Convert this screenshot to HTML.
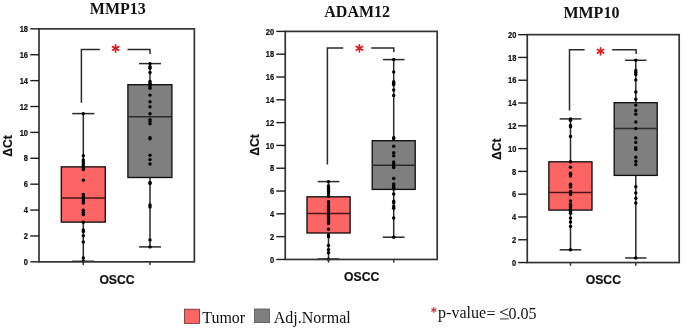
<!DOCTYPE html>
<html><head><meta charset="utf-8"><style>
html,body{margin:0;padding:0;background:#fff;}
body{width:685px;height:331px;overflow:hidden;}
svg{display:block;will-change:transform;}
.ttl{font-family:"Liberation Serif",serif;font-weight:bold;font-size:16px;fill:#111;}
.tk{font-family:"Liberation Sans",sans-serif;font-weight:bold;font-size:7.5px;fill:#111;stroke:#111;stroke-width:0.2px;}
.yl{font-family:"Liberation Sans",sans-serif;font-weight:bold;font-size:12.2px;fill:#111;stroke:#111;stroke-width:0.2px;}
.xl{font-family:"Liberation Sans",sans-serif;font-weight:bold;font-size:12.2px;fill:#111;stroke:#111;stroke-width:0.2px;}
.lg{font-family:"Liberation Serif",serif;font-size:16px;fill:#111;}
.pv{font-family:"Liberation Serif",serif;font-size:16px;fill:#111;}
</style></head><body>
<svg width="685" height="331" viewBox="0 0 685 331">
<rect width="685" height="331" fill="#fff"/>
<text x="117.85" y="13.8" class="ttl" text-anchor="middle">MMP13</text>
<line x1="83.3" y1="113.6" x2="83.3" y2="261.3" stroke="#2b2b2b" stroke-width="1.5"/>
<line x1="72.2" y1="113.6" x2="94.4" y2="113.6" stroke="#2b2b2b" stroke-width="1.5"/>
<line x1="72.2" y1="261.3" x2="94.4" y2="261.3" stroke="#2b2b2b" stroke-width="1.5"/>
<rect x="61.3" y="166.85" width="44" height="55.25" fill="#FD6464" stroke="#111" stroke-width="1.35"/>
<line x1="61.3" y1="197.9" x2="105.3" y2="197.9" stroke="#4a1414" stroke-width="1.5"/>
<g fill="#000"><circle cx="83.3" cy="113.6" r="1.72"/><circle cx="83.3" cy="155.7" r="1.72"/><circle cx="83.3" cy="160" r="1.72"/><circle cx="83.3" cy="162" r="1.72"/><circle cx="83.3" cy="164" r="1.72"/><circle cx="83.3" cy="166" r="1.72"/><circle cx="83.3" cy="168" r="1.72"/><circle cx="83.3" cy="169.6" r="1.72"/><circle cx="83.3" cy="180.2" r="1.72"/><circle cx="83.3" cy="194.5" r="1.72"/><circle cx="83.3" cy="197" r="1.72"/><circle cx="83.3" cy="199" r="1.72"/><circle cx="83.3" cy="201" r="1.72"/><circle cx="83.3" cy="203" r="1.72"/><circle cx="83.3" cy="210.3" r="1.72"/><circle cx="83.3" cy="212.4" r="1.72"/><circle cx="83.3" cy="214.5" r="1.72"/><circle cx="83.3" cy="222.3" r="1.72"/><circle cx="83.3" cy="230" r="1.72"/><circle cx="83.3" cy="231.5" r="1.72"/><circle cx="83.3" cy="235.8" r="1.72"/><circle cx="83.3" cy="241.9" r="1.72"/><circle cx="83.3" cy="258" r="1.72"/><circle cx="83.3" cy="261.3" r="1.72"/></g>
<line x1="150" y1="63.6" x2="150" y2="246.9" stroke="#2b2b2b" stroke-width="1.5"/>
<line x1="139" y1="63.6" x2="161" y2="63.6" stroke="#2b2b2b" stroke-width="1.5"/>
<line x1="139" y1="246.9" x2="161" y2="246.9" stroke="#2b2b2b" stroke-width="1.5"/>
<rect x="127.9" y="84.7" width="44" height="92.8" fill="#7F7F7F" stroke="#111" stroke-width="1.35"/>
<line x1="127.9" y1="116.7" x2="171.9" y2="116.7" stroke="#2a2a2a" stroke-width="1.5"/>
<g fill="#000"><circle cx="150" cy="63.6" r="1.72"/><circle cx="150" cy="66.6" r="1.72"/><circle cx="150" cy="68.2" r="1.72"/><circle cx="150" cy="72.5" r="1.72"/><circle cx="150" cy="81.5" r="1.72"/><circle cx="150" cy="83.3" r="1.72"/><circle cx="150" cy="85.1" r="1.72"/><circle cx="150" cy="86.9" r="1.72"/><circle cx="150" cy="88.3" r="1.72"/><circle cx="150" cy="95.1" r="1.72"/><circle cx="150" cy="101.8" r="1.72"/><circle cx="150" cy="106.7" r="1.72"/><circle cx="150" cy="113.8" r="1.72"/><circle cx="150" cy="119.6" r="1.72"/><circle cx="150" cy="121.6" r="1.72"/><circle cx="150" cy="123.7" r="1.72"/><circle cx="150" cy="137.7" r="1.72"/><circle cx="150" cy="138.7" r="1.72"/><circle cx="150" cy="155.3" r="1.72"/><circle cx="150" cy="159.6" r="1.72"/><circle cx="150" cy="164" r="1.72"/><circle cx="150" cy="182.4" r="1.72"/><circle cx="150" cy="183.6" r="1.72"/><circle cx="150" cy="205" r="1.72"/><circle cx="150" cy="207" r="1.72"/><circle cx="150" cy="239.9" r="1.72"/><circle cx="150" cy="246.9" r="1.72"/></g>
<rect x="39" y="28.85" width="155.35" height="233" fill="none" stroke="#333333" stroke-width="1.7"/>
<line x1="30.3" y1="261.85" x2="39" y2="261.85" stroke="#1e1e1e" stroke-width="1.4"/>
<text class="tk" text-anchor="end" transform="translate(28 265.05) scale(1 1.1)">0</text>
<line x1="30.3" y1="235.96" x2="39" y2="235.96" stroke="#1e1e1e" stroke-width="1.4"/>
<text class="tk" text-anchor="end" transform="translate(28 239.16) scale(1 1.1)">2</text>
<line x1="30.3" y1="210.07" x2="39" y2="210.07" stroke="#1e1e1e" stroke-width="1.4"/>
<text class="tk" text-anchor="end" transform="translate(28 213.27) scale(1 1.1)">4</text>
<line x1="30.3" y1="184.18" x2="39" y2="184.18" stroke="#1e1e1e" stroke-width="1.4"/>
<text class="tk" text-anchor="end" transform="translate(28 187.38) scale(1 1.1)">6</text>
<line x1="30.3" y1="158.29" x2="39" y2="158.29" stroke="#1e1e1e" stroke-width="1.4"/>
<text class="tk" text-anchor="end" transform="translate(28 161.49) scale(1 1.1)">8</text>
<line x1="30.3" y1="132.41" x2="39" y2="132.41" stroke="#1e1e1e" stroke-width="1.4"/>
<text class="tk" text-anchor="end" transform="translate(28 135.61) scale(1 1.1)">10</text>
<line x1="30.3" y1="106.52" x2="39" y2="106.52" stroke="#1e1e1e" stroke-width="1.4"/>
<text class="tk" text-anchor="end" transform="translate(28 109.72) scale(1 1.1)">12</text>
<line x1="30.3" y1="80.63" x2="39" y2="80.63" stroke="#1e1e1e" stroke-width="1.4"/>
<text class="tk" text-anchor="end" transform="translate(28 83.83) scale(1 1.1)">14</text>
<line x1="30.3" y1="54.74" x2="39" y2="54.74" stroke="#1e1e1e" stroke-width="1.4"/>
<text class="tk" text-anchor="end" transform="translate(28 57.94) scale(1 1.1)">16</text>
<line x1="30.3" y1="28.85" x2="39" y2="28.85" stroke="#1e1e1e" stroke-width="1.4"/>
<text class="tk" text-anchor="end" transform="translate(28 32.05) scale(1 1.1)">18</text>
<line x1="83.3" y1="261.85" x2="83.3" y2="265.05" stroke="#333333" stroke-width="1.5"/>
<line x1="150" y1="261.85" x2="150" y2="265.05" stroke="#333333" stroke-width="1.5"/>
<polyline points="81.4,102.7 81.4,49.6 99.8,49.6" fill="none" stroke="#2b2b2b" stroke-width="1.5"/>
<polyline points="127.5,49.6 150,49.6 150,54" fill="none" stroke="#2b2b2b" stroke-width="1.5"/>
<g stroke="#D81E1E" stroke-width="1.75" stroke-linecap="round"><line x1="115.6" y1="44.85" x2="115.6" y2="51.95"/><line x1="112.53" y1="46.62" x2="118.67" y2="50.17"/><line x1="118.67" y1="46.62" x2="112.53" y2="50.17"/></g>
<text x="0" y="0" class="yl" text-anchor="middle" transform="translate(7.9 146) rotate(-90)" dy="4.3">&#916;Ct</text>
<text x="117" y="284" class="xl" text-anchor="middle">OSCC</text>
<text x="357.15" y="16.8" class="ttl" text-anchor="middle">ADAM12</text>
<line x1="328.5" y1="181.6" x2="328.5" y2="259" stroke="#2b2b2b" stroke-width="1.5"/>
<line x1="317.7" y1="181.6" x2="339.3" y2="181.6" stroke="#2b2b2b" stroke-width="1.5"/>
<line x1="317.7" y1="259" x2="339.3" y2="259" stroke="#2b2b2b" stroke-width="1.5"/>
<rect x="307" y="196.8" width="43.1" height="36.2" fill="#FD6464" stroke="#111" stroke-width="1.35"/>
<line x1="307" y1="213.5" x2="350.1" y2="213.5" stroke="#4a1414" stroke-width="1.5"/>
<g fill="#000"><circle cx="328.5" cy="181.6" r="1.72"/><circle cx="328.5" cy="185.9" r="1.72"/><circle cx="328.5" cy="187.7" r="1.72"/><circle cx="328.5" cy="189.5" r="1.72"/><circle cx="328.5" cy="191.8" r="1.72"/><circle cx="328.5" cy="193.6" r="1.72"/><circle cx="328.5" cy="196.3" r="1.72"/><circle cx="328.5" cy="201.7" r="1.72"/><circle cx="328.5" cy="203.8" r="1.72"/><circle cx="328.5" cy="205.9" r="1.72"/><circle cx="328.5" cy="207.7" r="1.72"/><circle cx="328.5" cy="209.5" r="1.72"/><circle cx="328.5" cy="211.8" r="1.72"/><circle cx="328.5" cy="213.6" r="1.72"/><circle cx="328.5" cy="215.4" r="1.72"/><circle cx="328.5" cy="217.2" r="1.72"/><circle cx="328.5" cy="219.5" r="1.72"/><circle cx="328.5" cy="221.7" r="1.72"/><circle cx="328.5" cy="223.6" r="1.72"/><circle cx="328.5" cy="229.2" r="1.72"/><circle cx="328.5" cy="235" r="1.72"/><circle cx="328.5" cy="236.8" r="1.72"/><circle cx="328.5" cy="245.5" r="1.72"/><circle cx="328.5" cy="249.6" r="1.72"/><circle cx="328.5" cy="252.7" r="1.72"/><circle cx="328.5" cy="259.2" r="1.72"/></g>
<line x1="393.7" y1="59.6" x2="393.7" y2="237.2" stroke="#2b2b2b" stroke-width="1.5"/>
<line x1="382.85" y1="59.6" x2="404.55" y2="59.6" stroke="#2b2b2b" stroke-width="1.5"/>
<line x1="382.85" y1="237.2" x2="404.55" y2="237.2" stroke="#2b2b2b" stroke-width="1.5"/>
<rect x="372.2" y="140.7" width="43" height="48.7" fill="#7F7F7F" stroke="#111" stroke-width="1.35"/>
<line x1="372.2" y1="165.2" x2="415.2" y2="165.2" stroke="#2a2a2a" stroke-width="1.5"/>
<g fill="#000"><circle cx="393.7" cy="59.5" r="1.72"/><circle cx="393.7" cy="71.9" r="1.72"/><circle cx="393.7" cy="81.7" r="1.72"/><circle cx="393.7" cy="83.2" r="1.72"/><circle cx="393.7" cy="84.7" r="1.72"/><circle cx="393.7" cy="90" r="1.72"/><circle cx="393.7" cy="95.5" r="1.72"/><circle cx="393.7" cy="137.7" r="1.72"/><circle cx="393.7" cy="138.8" r="1.72"/><circle cx="393.7" cy="146.2" r="1.72"/><circle cx="393.7" cy="152.8" r="1.72"/><circle cx="393.7" cy="155.8" r="1.72"/><circle cx="393.7" cy="162" r="1.72"/><circle cx="393.7" cy="164" r="1.72"/><circle cx="393.7" cy="166" r="1.72"/><circle cx="393.7" cy="167.6" r="1.72"/><circle cx="393.7" cy="178.5" r="1.72"/><circle cx="393.7" cy="184" r="1.72"/><circle cx="393.7" cy="186" r="1.72"/><circle cx="393.7" cy="187.5" r="1.72"/><circle cx="393.7" cy="189" r="1.72"/><circle cx="393.7" cy="194" r="1.72"/><circle cx="393.7" cy="201.3" r="1.72"/><circle cx="393.7" cy="203.1" r="1.72"/><circle cx="393.7" cy="206.4" r="1.72"/><circle cx="393.7" cy="208.2" r="1.72"/><circle cx="393.7" cy="218" r="1.72"/><circle cx="393.7" cy="237.2" r="1.72"/></g>
<rect x="285.25" y="31.4" width="151.95" height="228.05" fill="none" stroke="#333333" stroke-width="1.7"/>
<line x1="276.3" y1="259.45" x2="285.25" y2="259.45" stroke="#1e1e1e" stroke-width="1.4"/>
<text class="tk" text-anchor="end" transform="translate(274.2 262.65) scale(1 1.1)">0</text>
<line x1="276.3" y1="236.64" x2="285.25" y2="236.64" stroke="#1e1e1e" stroke-width="1.4"/>
<text class="tk" text-anchor="end" transform="translate(274.2 239.84) scale(1 1.1)">2</text>
<line x1="276.3" y1="213.84" x2="285.25" y2="213.84" stroke="#1e1e1e" stroke-width="1.4"/>
<text class="tk" text-anchor="end" transform="translate(274.2 217.04) scale(1 1.1)">4</text>
<line x1="276.3" y1="191.03" x2="285.25" y2="191.03" stroke="#1e1e1e" stroke-width="1.4"/>
<text class="tk" text-anchor="end" transform="translate(274.2 194.23) scale(1 1.1)">6</text>
<line x1="276.3" y1="168.23" x2="285.25" y2="168.23" stroke="#1e1e1e" stroke-width="1.4"/>
<text class="tk" text-anchor="end" transform="translate(274.2 171.43) scale(1 1.1)">8</text>
<line x1="276.3" y1="145.42" x2="285.25" y2="145.42" stroke="#1e1e1e" stroke-width="1.4"/>
<text class="tk" text-anchor="end" transform="translate(274.2 148.62) scale(1 1.1)">10</text>
<line x1="276.3" y1="122.62" x2="285.25" y2="122.62" stroke="#1e1e1e" stroke-width="1.4"/>
<text class="tk" text-anchor="end" transform="translate(274.2 125.82) scale(1 1.1)">12</text>
<line x1="276.3" y1="99.81" x2="285.25" y2="99.81" stroke="#1e1e1e" stroke-width="1.4"/>
<text class="tk" text-anchor="end" transform="translate(274.2 103.02) scale(1 1.1)">14</text>
<line x1="276.3" y1="77.01" x2="285.25" y2="77.01" stroke="#1e1e1e" stroke-width="1.4"/>
<text class="tk" text-anchor="end" transform="translate(274.2 80.21) scale(1 1.1)">16</text>
<line x1="276.3" y1="54.2" x2="285.25" y2="54.2" stroke="#1e1e1e" stroke-width="1.4"/>
<text class="tk" text-anchor="end" transform="translate(274.2 57.4) scale(1 1.1)">18</text>
<line x1="276.3" y1="31.4" x2="285.25" y2="31.4" stroke="#1e1e1e" stroke-width="1.4"/>
<text class="tk" text-anchor="end" transform="translate(274.2 34.6) scale(1 1.1)">20</text>
<line x1="328.5" y1="259.45" x2="328.5" y2="262.65" stroke="#333333" stroke-width="1.5"/>
<line x1="393.7" y1="259.45" x2="393.7" y2="262.65" stroke="#333333" stroke-width="1.5"/>
<polyline points="327.4,164.5 327.4,48.1 343.2,48.1" fill="none" stroke="#2b2b2b" stroke-width="1.5"/>
<polyline points="371.2,48.1 393.8,48.1 393.8,52.1" fill="none" stroke="#2b2b2b" stroke-width="1.5"/>
<g stroke="#D81E1E" stroke-width="1.75" stroke-linecap="round"><line x1="359.4" y1="44.75" x2="359.4" y2="51.85"/><line x1="356.33" y1="46.52" x2="362.47" y2="50.07"/><line x1="362.47" y1="46.52" x2="356.33" y2="50.07"/></g>
<text x="0" y="0" class="yl" text-anchor="middle" transform="translate(254.8 145) rotate(-90)" dy="4.3">&#916;Ct</text>
<text x="361.7" y="280.8" class="xl" text-anchor="middle">OSCC</text>
<text x="591.4" y="18.2" class="ttl" text-anchor="middle">MMP10</text>
<line x1="570.5" y1="118.9" x2="570.5" y2="249.8" stroke="#2b2b2b" stroke-width="1.5"/>
<line x1="559.7" y1="118.9" x2="581.3" y2="118.9" stroke="#2b2b2b" stroke-width="1.5"/>
<line x1="559.7" y1="249.8" x2="581.3" y2="249.8" stroke="#2b2b2b" stroke-width="1.5"/>
<rect x="548.85" y="161.8" width="43.15" height="48.3" fill="#FD6464" stroke="#111" stroke-width="1.35"/>
<line x1="548.85" y1="192.5" x2="592" y2="192.5" stroke="#4a1414" stroke-width="1.5"/>
<g fill="#000"><circle cx="570.5" cy="118.9" r="1.72"/><circle cx="570.5" cy="120.3" r="1.72"/><circle cx="570.5" cy="125.5" r="1.72"/><circle cx="570.5" cy="126.8" r="1.72"/><circle cx="570.5" cy="136.5" r="1.72"/><circle cx="570.5" cy="161.7" r="1.72"/><circle cx="570.5" cy="167.2" r="1.72"/><circle cx="570.5" cy="173.3" r="1.72"/><circle cx="570.5" cy="174.6" r="1.72"/><circle cx="570.5" cy="176" r="1.72"/><circle cx="570.5" cy="184.3" r="1.72"/><circle cx="570.5" cy="185.7" r="1.72"/><circle cx="570.5" cy="187.1" r="1.72"/><circle cx="570.5" cy="191.5" r="1.72"/><circle cx="570.5" cy="193" r="1.72"/><circle cx="570.5" cy="194.5" r="1.72"/><circle cx="570.5" cy="201" r="1.72"/><circle cx="570.5" cy="204.2" r="1.72"/><circle cx="570.5" cy="206" r="1.72"/><circle cx="570.5" cy="207.8" r="1.72"/><circle cx="570.5" cy="209.6" r="1.72"/><circle cx="570.5" cy="211.4" r="1.72"/><circle cx="570.5" cy="213.2" r="1.72"/><circle cx="570.5" cy="218.1" r="1.72"/><circle cx="570.5" cy="222" r="1.72"/><circle cx="570.5" cy="226.4" r="1.72"/><circle cx="570.5" cy="249.8" r="1.72"/></g>
<line x1="635.8" y1="60.3" x2="635.8" y2="258" stroke="#2b2b2b" stroke-width="1.5"/>
<line x1="625.1" y1="60.3" x2="646.5" y2="60.3" stroke="#2b2b2b" stroke-width="1.5"/>
<line x1="625.1" y1="258" x2="646.5" y2="258" stroke="#2b2b2b" stroke-width="1.5"/>
<rect x="614.2" y="102.7" width="43" height="72.7" fill="#7F7F7F" stroke="#111" stroke-width="1.35"/>
<line x1="614.2" y1="128.5" x2="657.2" y2="128.5" stroke="#2a2a2a" stroke-width="1.5"/>
<g fill="#000"><circle cx="635.8" cy="60.3" r="1.72"/><circle cx="635.8" cy="70.5" r="1.72"/><circle cx="635.8" cy="72.5" r="1.72"/><circle cx="635.8" cy="74.5" r="1.72"/><circle cx="635.8" cy="79.9" r="1.72"/><circle cx="635.8" cy="92" r="1.72"/><circle cx="635.8" cy="99.3" r="1.72"/><circle cx="635.8" cy="105.1" r="1.72"/><circle cx="635.8" cy="110.5" r="1.72"/><circle cx="635.8" cy="114.3" r="1.72"/><circle cx="635.8" cy="122" r="1.72"/><circle cx="635.8" cy="128.6" r="1.72"/><circle cx="635.8" cy="138" r="1.72"/><circle cx="635.8" cy="142.4" r="1.72"/><circle cx="635.8" cy="147.6" r="1.72"/><circle cx="635.8" cy="149.4" r="1.72"/><circle cx="635.8" cy="157.3" r="1.72"/><circle cx="635.8" cy="161.2" r="1.72"/><circle cx="635.8" cy="164.6" r="1.72"/><circle cx="635.8" cy="186.8" r="1.72"/><circle cx="635.8" cy="192.9" r="1.72"/><circle cx="635.8" cy="198.2" r="1.72"/><circle cx="635.8" cy="203" r="1.72"/><circle cx="635.8" cy="258" r="1.72"/></g>
<rect x="527.25" y="34.65" width="151.95" height="227.9" fill="none" stroke="#333333" stroke-width="1.7"/>
<line x1="518.2" y1="262.55" x2="527.25" y2="262.55" stroke="#1e1e1e" stroke-width="1.4"/>
<text class="tk" text-anchor="end" transform="translate(516.3 265.75) scale(1 1.1)">0</text>
<line x1="518.2" y1="239.76" x2="527.25" y2="239.76" stroke="#1e1e1e" stroke-width="1.4"/>
<text class="tk" text-anchor="end" transform="translate(516.3 242.96) scale(1 1.1)">2</text>
<line x1="518.2" y1="216.97" x2="527.25" y2="216.97" stroke="#1e1e1e" stroke-width="1.4"/>
<text class="tk" text-anchor="end" transform="translate(516.3 220.17) scale(1 1.1)">4</text>
<line x1="518.2" y1="194.18" x2="527.25" y2="194.18" stroke="#1e1e1e" stroke-width="1.4"/>
<text class="tk" text-anchor="end" transform="translate(516.3 197.38) scale(1 1.1)">6</text>
<line x1="518.2" y1="171.39" x2="527.25" y2="171.39" stroke="#1e1e1e" stroke-width="1.4"/>
<text class="tk" text-anchor="end" transform="translate(516.3 174.59) scale(1 1.1)">8</text>
<line x1="518.2" y1="148.6" x2="527.25" y2="148.6" stroke="#1e1e1e" stroke-width="1.4"/>
<text class="tk" text-anchor="end" transform="translate(516.3 151.8) scale(1 1.1)">10</text>
<line x1="518.2" y1="125.81" x2="527.25" y2="125.81" stroke="#1e1e1e" stroke-width="1.4"/>
<text class="tk" text-anchor="end" transform="translate(516.3 129.01) scale(1 1.1)">12</text>
<line x1="518.2" y1="103.02" x2="527.25" y2="103.02" stroke="#1e1e1e" stroke-width="1.4"/>
<text class="tk" text-anchor="end" transform="translate(516.3 106.22) scale(1 1.1)">14</text>
<line x1="518.2" y1="80.23" x2="527.25" y2="80.23" stroke="#1e1e1e" stroke-width="1.4"/>
<text class="tk" text-anchor="end" transform="translate(516.3 83.43) scale(1 1.1)">16</text>
<line x1="518.2" y1="57.44" x2="527.25" y2="57.44" stroke="#1e1e1e" stroke-width="1.4"/>
<text class="tk" text-anchor="end" transform="translate(516.3 60.64) scale(1 1.1)">18</text>
<line x1="518.2" y1="34.65" x2="527.25" y2="34.65" stroke="#1e1e1e" stroke-width="1.4"/>
<text class="tk" text-anchor="end" transform="translate(516.3 37.85) scale(1 1.1)">20</text>
<line x1="570.5" y1="262.55" x2="570.5" y2="265.75" stroke="#333333" stroke-width="1.5"/>
<line x1="635.8" y1="262.55" x2="635.8" y2="265.75" stroke="#333333" stroke-width="1.5"/>
<polyline points="569.5,110.5 569.5,49.7 584.6,49.7" fill="none" stroke="#2b2b2b" stroke-width="1.5"/>
<polyline points="612.2,49.7 636.1,49.7 636.1,54" fill="none" stroke="#2b2b2b" stroke-width="1.5"/>
<g stroke="#D81E1E" stroke-width="1.75" stroke-linecap="round"><line x1="600.5" y1="47.75" x2="600.5" y2="54.85"/><line x1="597.43" y1="49.52" x2="603.57" y2="53.07"/><line x1="603.57" y1="49.52" x2="597.43" y2="53.07"/></g>
<text x="0" y="0" class="yl" text-anchor="middle" transform="translate(497 149.2) rotate(-90)" dy="4.3">&#916;Ct</text>
<text x="603.35" y="283.5" class="xl" text-anchor="middle">OSCC</text>
<rect x="184.5" y="309.2" width="15" height="14.2" fill="#FD6464" stroke="#6a2a2a" stroke-width="0.8"/>
<text x="202.2" y="323.1" class="lg">Tumor</text>
<rect x="254.4" y="309" width="15.2" height="13.6" fill="#7F7F7F" stroke="#555" stroke-width="0.8"/>
<text x="273.8" y="323.1" class="lg">Adj.Normal</text>
<g stroke="#D43535" stroke-width="1.15" stroke-linecap="round"><line x1="433.8" y1="307.6" x2="433.8" y2="312.4"/><line x1="431.72" y1="308.8" x2="435.88" y2="311.2"/><line x1="435.88" y1="308.8" x2="431.72" y2="311.2"/></g>
<text x="438.1" y="318.2" class="pv">p-value</text>
<text x="486.4" y="318.9" class="pv">=</text>
<path d="M508.4 308.6 L500.3 312.1 L508.4 315.6" fill="none" stroke="#1a1a1a" stroke-width="0.95"/>
<text x="508.6" y="318.6" class="pv">0.05</text>
<line x1="499.9" y1="318.9" x2="508.6" y2="318.9" stroke="#333" stroke-width="1"/>
</svg>
</body></html>
